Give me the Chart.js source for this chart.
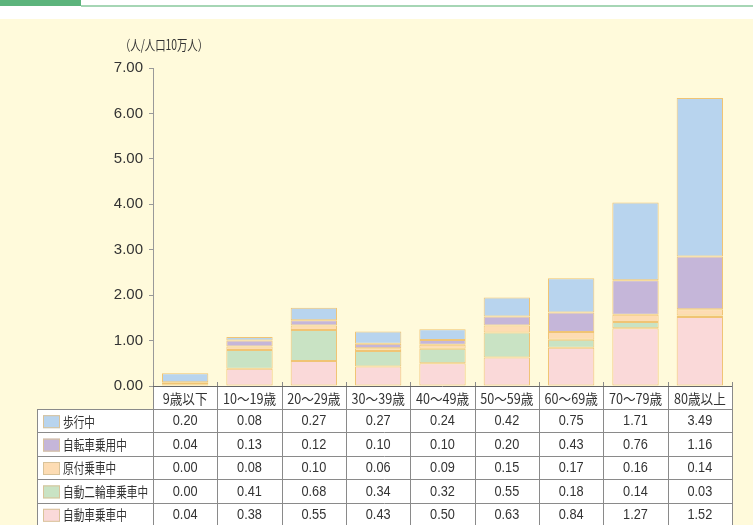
<!DOCTYPE html>
<html><head><meta charset="utf-8">
<script src="https://cdn.jsdelivr.net/npm/chart.js@4"></script>
<style>html,body{margin:0;padding:0;background:#fff}#wrap{position:relative;width:753px;height:525px}canvas{display:block}</style>
</head><body><div id="wrap"><canvas id="c" width="753" height="525"></canvas></div>
<script>
const categories = ['9歳以下', '10〜19歳', '20〜29歳', '30〜39歳', '40〜49歳', '50〜59歳', '60〜69歳', '70〜79歳', '80歳以上'];
const seriesNames = ['歩行中', '自転車乗用中', '原付乗車中', '自動二輪車乗車中', '自動車乗車中'];
const walking    = [0.20, 0.08, 0.27, 0.27, 0.24, 0.42, 0.75, 1.71, 3.49];
const bicycle    = [0.04, 0.13, 0.12, 0.10, 0.10, 0.20, 0.43, 0.76, 1.16];
const moped      = [0.00, 0.08, 0.10, 0.06, 0.09, 0.15, 0.17, 0.16, 0.14];
const motorcycle = [0.00, 0.41, 0.68, 0.34, 0.32, 0.55, 0.18, 0.14, 0.03];
const car        = [0.04, 0.38, 0.55, 0.43, 0.50, 0.63, 0.84, 1.27, 1.52];
const yTicks = [0, 1, 2, 3, 4, 5, 6, 7];
const unitLabel = '（人/人口10万人）';

const seriesValues = [walking, bicycle, moped, motorcycle, car];
const seriesColors = ['#b8d4ee', '#c5b6d9', '#fddcb3', '#c9e3c4', '#fad9d9'];
const barBorder = '#f0c474';
const textColor = '#333333';
const latin = "'Liberation Sans Narrow', 'Liberation Sans', 'Noto Sans CJK JP', sans-serif";
const cjk = "'Liberation Sans Narrow', 'Noto Sans CJK JP', sans-serif";

function drawSqueezed(ctx, text, x, y, align, font, squeeze) {
  ctx.save();
  ctx.font = font;
  ctx.textBaseline = 'middle';
  ctx.textAlign = 'left';
  const w = ctx.measureText(text).width * squeeze;
  let sx = x;
  if (align === 'center') sx = x - w / 2;
  else if (align === 'right') sx = x - w;
  ctx.translate(sx, y);
  ctx.scale(squeeze, 1);
  ctx.fillStyle = textColor;
  ctx.fillText(text, 0, 0);
  ctx.restore();
}

const bgPlugin = {
  id: 'bg',
  beforeDraw(chart) {
    const ctx = chart.ctx;
    ctx.save();
    ctx.fillStyle = '#ffffff';
    ctx.fillRect(0, 0, chart.width, chart.height);
    ctx.fillStyle = '#fffadb';
    ctx.fillRect(0, 19, chart.width, chart.height - 19);
    ctx.fillStyle = '#5cb47c';
    ctx.fillRect(0, 0, 81, 6);
    ctx.fillStyle = '#a6d6b5';
    ctx.fillRect(81, 5, chart.width - 81, 2);
    ctx.restore();
  }
};

const tablePlugin = {
  id: 'table',
  afterDraw(chart) {
    const ctx = chart.ctx;
    const area = chart.chartArea;
    const n = categories.length;
    const colW = (area.right - area.left) / n;
    const tableLeft = 37;
    const headerTop = area.bottom;
    const headerH = 23;
    const rowH = 23.4;
    const rowsTop = headerTop + headerH;
    const bottom = chart.height + 2;
    ctx.save();
    ctx.fillStyle = '#ffffff';
    ctx.fillRect(area.left, headerTop, area.right - area.left, headerH);
    ctx.fillRect(tableLeft, rowsTop, area.right - tableLeft, bottom - rowsTop);
    ctx.lineWidth = 1;
    ctx.strokeStyle = '#8a8a8a';
    ctx.beginPath();
    for (let i = 0; i <= n; i++) {
      const lx = Math.round(area.left + i * colW) + 0.5;
      ctx.moveTo(lx, area.bottom - 4);
      ctx.lineTo(lx, bottom);
    }
    ctx.moveTo(tableLeft + 0.5, rowsTop);
    ctx.lineTo(tableLeft + 0.5, bottom);
    for (let k = 0; k < seriesNames.length; k++) {
      const ly = Math.round(rowsTop + k * rowH) + 0.5;
      ctx.moveTo(tableLeft, ly);
      ctx.lineTo(area.right, ly);
    }
    ctx.stroke();
    ctx.strokeStyle = '#666666';
    ctx.beginPath();
    ctx.moveTo(area.left, Math.round(area.bottom) + 0.5);
    ctx.lineTo(area.right, Math.round(area.bottom) + 0.5);
    ctx.stroke();
    for (let i = 0; i < n; i++) {
      const cx = area.left + (i + 0.5) * colW;
      drawSqueezed(ctx, categories[i], cx, headerTop + headerH / 2 + 1, 'center', "14px " + cjk, 0.9);
    }
    for (let k = 0; k < seriesNames.length; k++) {
      const cy = rowsTop + k * rowH + rowH / 2 + 0.5;
      ctx.fillStyle = seriesColors[k];
      ctx.fillRect(43, cy - 6, 17, 13);
      ctx.strokeStyle = '#d9c39a';
      ctx.strokeRect(43.5, cy - 5.5, 16, 12);
      drawSqueezed(ctx, seriesNames[k], 63, cy, 'left', "14px 'Noto Sans CJK JP', sans-serif", 0.76);
      for (let i = 0; i < n; i++) {
        const cx = area.left + (i + 0.5) * colW;
        drawSqueezed(ctx, seriesValues[k][i].toFixed(2), cx, cy, 'center', "15px " + latin, 0.85);
      }
    }
    drawSqueezed(ctx, unitLabel, 120, 45, 'left', "14px 'Noto Sans CJK JP', sans-serif", 0.74);
    ctx.restore();
  }
};

const stackOrder = [4, 3, 2, 1, 0];
const datasets = stackOrder.map(k => ({
  label: seriesNames[k],
  data: seriesValues[k],
  backgroundColor: seriesColors[k],
  borderColor: barBorder,
  borderWidth: 1,
  borderSkipped: false,
  categoryPercentage: 1.0,
  barPercentage: 0.72
}));

new Chart(document.getElementById('c'), {
  type: 'bar',
  data: { labels: categories, datasets },
  options: {
    responsive: false,
    animation: false,
    devicePixelRatio: 1,
    layout: { padding: { top: 68, bottom: 139, left: 0, right: 21 } },
    plugins: { legend: { display: false }, tooltip: { enabled: false }, title: { display: false } },
    scales: {
      x: { stacked: true, display: false },
      y: {
        stacked: true,
        min: yTicks[0],
        max: yTicks[yTicks.length - 1],
        afterFit(s) { s.width = 153; },
        afterBuildTicks(s) { s.ticks = yTicks.map(v => ({ value: v })); },
        ticks: {
          padding: 6,
          color: textColor,
          font: { family: latin, size: 15 },
          callback: v => Number(v).toFixed(2)
        },
        grid: { drawOnChartArea: false, drawTicks: true, tickLength: 4, color: '#999999' },
        border: { display: true, color: '#999999' }
      }
    }
  },
  plugins: [bgPlugin, tablePlugin]
});
</script>
</body></html>
